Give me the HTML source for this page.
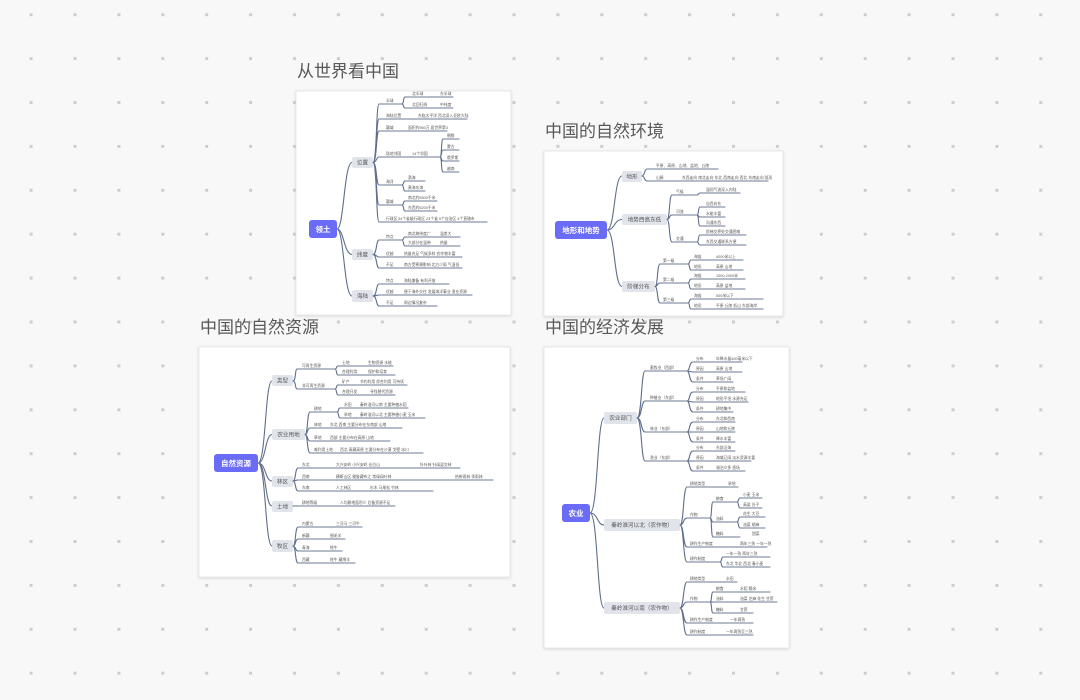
<!DOCTYPE html>
<html><head><meta charset="utf-8"><style>
html,body{margin:0;padding:0;width:1080px;height:700px;overflow:hidden;background:#f8f8f9;}
svg{display:block;font-family:"Liberation Sans","Noto Sans CJK SC",sans-serif;}
.ln{fill:none;stroke:#5f6e8b;stroke-width:1.1;stroke-linecap:round}
.ul{stroke:#6b7994;stroke-width:1.1;stroke-linecap:round}
.tt{font-size:3.8px;fill:#555}
.l1r{fill:#e1e4ea}
.l1t{font-size:5.6px;fill:#555;text-anchor:middle}
.rt{fill:#6a6cf7}
.rtt{font-size:7.5px;fill:#fff;font-weight:bold;text-anchor:middle}
.ttl{font-size:17px;fill:#585858}
.card{fill:#fff;stroke:#e3e3e6;stroke-width:0.8}
</style></head><body>
<svg width="1080" height="700" viewBox="0 0 1080 700" xmlns="http://www.w3.org/2000/svg">
<defs>
<pattern id="dots" patternUnits="userSpaceOnUse" x="29.6" y="13.2" width="43.9" height="43.9"><rect x="0" y="0" width="3" height="3" fill="#cdcdcf"/></pattern>
<filter id="sh" x="-5%" y="-5%" width="110%" height="110%"><feDropShadow dx="0" dy="1" stdDeviation="1.5" flood-color="#000" flood-opacity="0.12"/></filter>
</defs>
<rect width="1080" height="700" fill="#f8f8f9"/>
<rect width="1080" height="700" fill="url(#dots)"/>

<!-- Titles -->
<text class="ttl" x="297" y="77">从世界看中国</text>
<text class="ttl" x="545" y="137">中国的自然环境</text>
<text class="ttl" x="200" y="333">中国的自然资源</text>
<text class="ttl" x="545" y="333">中国的经济发展</text>

<!-- ================= CARD 1 ================= -->
<rect class="card" x="296" y="91" width="215" height="224" filter="url(#sh)"/>
<path class="ln" d="M337,229 C344,229 344,162.5 352,162.5 M337,229 C344,229 344,254.5 352,254.5 M337,229 C344,229 344,296 352,296"/>
<rect class="rt" x="309" y="220" width="28" height="18" rx="3"/>
<text class="rtt" x="323" y="232">领土</text>
<rect class="l1r" x="352" y="157" width="21" height="11" rx="2"/><text class="l1t" x="362.5" y="164.6">位置</text>
<rect class="l1r" x="352" y="249" width="21" height="11" rx="2"/><text class="l1t" x="362.5" y="256.6">纬度</text>
<rect class="l1r" x="352" y="290" width="21" height="12" rx="2"/><text class="l1t" x="362.5" y="298.2">海陆</text>
<path class="ln" d="M373,162.5 C377,162.5 376,104 379,104 M373,162.5 C377,162.5 376,119 379,119 M373,162.5 C377,162.5 376,131 379,131 M373,162.5 C377,162.5 376,157 379,157 M373,162.5 C377,162.5 376,185 379,185 M373,162.5 C377,162.5 376,205 379,205 M373,162.5 C377,162.5 376,222 379,222"/>
<g class="ul">
<line x1="379" y1="104" x2="402" y2="104"/><line x1="379" y1="119" x2="467" y2="119"/><line x1="379" y1="131" x2="447" y2="131"/><line x1="379" y1="157" x2="440" y2="157"/><line x1="379" y1="185" x2="402" y2="185"/><line x1="379" y1="205" x2="402" y2="205"/><line x1="379" y1="222" x2="487" y2="222"/>
<line x1="405" y1="97" x2="453" y2="97"/><line x1="405" y1="108" x2="453" y2="108"/>
<line x1="443" y1="139" x2="459" y2="139"/><line x1="443" y1="150" x2="459" y2="150"/><line x1="443" y1="161" x2="459" y2="161"/><line x1="443" y1="172" x2="459" y2="172"/>
<line x1="405" y1="181" x2="425" y2="181"/><line x1="405" y1="191" x2="425" y2="191"/>
<line x1="405" y1="201" x2="437" y2="201"/><line x1="405" y1="211" x2="437" y2="211"/>
</g>
<path class="ln" d="M402,104 C404,104 403,97 405,97 M402,104 C404,104 403,108 405,108 M440,157 C442,157 441,139 443,139 M440,157 C442,157 441,150 443,150 M440,157 C442,157 441,161 443,161 M440,157 C442,157 441,172 443,172 M402,185 C404,185 403,181 405,181 M402,185 C404,185 403,191 405,191 M402,205 C404,205 403,201 405,201 M402,205 C404,205 403,211 405,211"/>
<g class="tt">
<text x="386" y="102">半球</text><text x="386" y="117">海陆位置</text><text x="386" y="129">疆域</text><text x="386" y="155">陆地邻国</text><text x="386" y="183">海洋</text><text x="386" y="203">疆域</text><text x="386" y="220">行政区</text>
<text x="418" y="117">东临太平洋 西北深入亚欧大陆</text><text x="408" y="129">面积约960万 居世界第3</text><text x="412" y="155">14个邻国</text><text x="398" y="220">34个省级行政区 23个省 5个自治区 4个直辖市</text>
<text x="412" y="95">北半球</text><text x="440" y="95">东半球</text><text x="412" y="106">北回归线</text><text x="440" y="106">中纬度</text>
<text x="447" y="137">朝鲜</text><text x="447" y="148">蒙古</text><text x="447" y="159">俄罗斯</text><text x="447" y="170">越南</text>
<text x="408" y="179">渤海</text><text x="408" y="189">黄海东海</text><text x="408" y="199">南北约5500千米</text><text x="408" y="209">东西约5200千米</text>
</g>
<path class="ln" d="M373,254.5 C377,254.5 376,240 379,240 M373,254.5 C377,254.5 376,257 379,257 M373,254.5 C377,254.5 376,268 379,268 M373,296 C377,296 376,284 379,284 M373,296 C377,296 376,295 379,295 M373,296 C377,296 376,306 379,306 M402,240 C404,240 403,237 405,237 M402,240 C404,240 403,246 405,246"/>
<g class="ul">
<line x1="379" y1="240" x2="402" y2="240"/><line x1="379" y1="257" x2="462" y2="257"/><line x1="379" y1="268" x2="462" y2="268"/>
<line x1="405" y1="237" x2="460" y2="237"/><line x1="405" y1="246" x2="460" y2="246"/>
<line x1="379" y1="284" x2="449" y2="284"/><line x1="379" y1="295" x2="472" y2="295"/><line x1="379" y1="306" x2="437" y2="306"/>
</g>
<g class="tt">
<text x="386" y="238">特点</text><text x="386" y="255">优越</text><text x="386" y="266">不足</text>
<text x="408" y="235">南北跨纬度广</text><text x="440" y="235">温差大</text><text x="408" y="244">大部分在温带</text><text x="440" y="244">热量</text>
<text x="404" y="255">热量充足 气候多样 农作物丰富</text><text x="404" y="266">南方受寒潮影响 北方少雨 气温低</text>
<text x="386" y="282">特点</text><text x="386" y="293">优越</text><text x="386" y="304">不足</text>
<text x="404" y="282">海陆兼备 有利开放</text><text x="404" y="293">便于海外交往 发展海洋事业 渔业资源</text><text x="404" y="304">周边情况复杂</text>
</g>

<!-- ================= CARD 2 ================= -->
<rect class="card" x="544" y="151" width="239" height="165" filter="url(#sh)"/>
<path class="ln" d="M607,230 C615,230 614,176 622,176 M607,230 C615,230 614,219.5 622,219.5 M607,230 C615,230 614,286.5 622,286.5"/>
<rect class="rt" x="555" y="221" width="52" height="18" rx="3"/>
<text class="rtt" x="581" y="233">地形和地势</text>
<rect class="l1r" x="622" y="171" width="20" height="11" rx="2"/><text class="l1t" x="632" y="178.6">地形</text>
<rect class="l1r" x="622" y="214" width="45" height="11" rx="2"/><text class="l1t" x="644.5" y="221.6">地势西高东低</text>
<rect class="l1r" x="622" y="281" width="33" height="11" rx="2"/><text class="l1t" x="638.5" y="288.6">阶梯分布</text>
<path class="ln" d="M642,176 C645,176 644,169 647,169 M642,176 C645,176 644,181 647,181 M667,219.5 C670,219.5 669,195 672,195 M667,219.5 C670,219.5 669,215 672,215 M667,219.5 C670,219.5 669,242 672,242 M697,195 C699,195 698,193 700,193 M697,215 C699,215 698,207 700,207 M697,215 C699,215 698,217 700,217 M697,215 C699,215 698,226 700,226 M697,242 C699,242 698,235 700,235 M697,242 C699,242 698,245 700,245 M655,286.5 C658,286.5 657,264 660,264 M655,286.5 C658,286.5 657,283 660,283 M655,286.5 C658,286.5 657,303 660,303 M688,264 C690,264 689,260 691,260 M688,264 C690,264 689,270 691,270 M688,283 C690,283 689,279 691,279 M688,283 C690,283 689,289 691,289 M688,303 C690,303 689,299 691,299 M688,303 C690,303 689,309 691,309"/>
<g class="ul">
<line x1="647" y1="169" x2="718" y2="169"/><line x1="647" y1="181" x2="768" y2="181"/>
<line x1="672" y1="195" x2="697" y2="195"/><line x1="672" y1="215" x2="697" y2="215"/><line x1="672" y1="242" x2="697" y2="242"/>
<line x1="700" y1="193" x2="740" y2="193"/><line x1="700" y1="207" x2="725" y2="207"/><line x1="700" y1="217" x2="725" y2="217"/><line x1="700" y1="226" x2="725" y2="226"/><line x1="700" y1="235" x2="746" y2="235"/><line x1="700" y1="245" x2="746" y2="245"/>
<line x1="660" y1="264" x2="688" y2="264"/><line x1="660" y1="283" x2="688" y2="283"/><line x1="660" y1="303" x2="688" y2="303"/>
<line x1="691" y1="260" x2="743" y2="260"/><line x1="691" y1="270" x2="743" y2="270"/><line x1="691" y1="279" x2="745" y2="279"/><line x1="691" y1="289" x2="745" y2="289"/><line x1="691" y1="299" x2="763" y2="299"/><line x1="691" y1="309" x2="763" y2="309"/>
</g>
<g class="tt">
<text x="656" y="167">平原、高原、山地、盆地、丘陵</text><text x="656" y="179">山脉</text><text x="682" y="179">东西走向 南北走向 东北-西南走向 西北-东南走向 弧形</text>
<text x="676" y="193">气候</text><text x="676" y="213">河流</text><text x="676" y="240">交通</text>
<text x="706" y="191">湿润气流深入内陆</text><text x="706" y="205">自西向东</text><text x="706" y="215">水能丰富</text><text x="706" y="224">沟通东西</text><text x="706" y="233">阶梯交界处交通困难</text><text x="706" y="243">东西交通联系方便</text>
<text x="663" y="262">第一级</text><text x="663" y="281">第二级</text><text x="663" y="301">第三级</text>
<text x="694" y="258">海拔</text><text x="716" y="258">4000米以上</text><text x="694" y="268">地形</text><text x="716" y="268">高原 山地</text>
<text x="694" y="277">海拔</text><text x="716" y="277">1000-2000米</text><text x="694" y="287">地形</text><text x="716" y="287">高原 盆地</text>
<text x="694" y="297">海拔</text><text x="716" y="297">500米以下</text><text x="694" y="307">地形</text><text x="716" y="307">平原 丘陵 低山 东部海岸</text>
</g>

<!-- ================= CARD 3 ================= -->
<rect class="card" x="199" y="347" width="311" height="230" filter="url(#sh)"/>
<path class="ln" d="M258,463 C266,463 265,381 272,381 M258,463 C266,463 265,434.5 272,434.5 M258,463 C266,463 265,481 272,481 M258,463 C266,463 265,506 272,506 M258,463 C266,463 265,546 272,546"/>
<rect class="rt" x="214" y="454" width="44" height="18" rx="3"/>
<text class="rtt" x="236" y="466">自然资源</text>
<rect class="l1r" x="272" y="375" width="21" height="11" rx="2"/><text class="l1t" x="282.5" y="382.6">类型</text>
<rect class="l1r" x="272" y="429" width="33" height="11" rx="2"/><text class="l1t" x="288.5" y="436.6">农业用地</text>
<rect class="l1r" x="272" y="476" width="21" height="11" rx="2"/><text class="l1t" x="282.5" y="483.6">林区</text>
<rect class="l1r" x="272" y="501" width="21" height="11" rx="2"/><text class="l1t" x="282.5" y="508.6">土地</text>
<rect class="l1r" x="272" y="540" width="21" height="12" rx="2"/><text class="l1t" x="282.5" y="548.2">牧区</text>
<path class="ln" d="M293,381 C296,381 295,369 297,369 M293,381 C296,381 295,389 297,389 M335,369 C337,369 336,366 338,366 M335,369 C337,369 336,375 338,375 M335,389 C337,389 336,385 338,385 M335,389 C337,389 336,395 338,395 M305,434.5 C308,434.5 307,412 310,412 M305,434.5 C308,434.5 307,428 310,428 M305,434.5 C308,434.5 307,441 310,441 M305,434.5 C308,434.5 307,453 310,453 M337,412 C339,412 338,408 340,408 M337,412 C339,412 338,418 340,418 M293,481 C296,481 295,468 298,468 M293,481 C296,481 295,480 298,480 M293,481 C296,481 295,491 298,491 M293,506 L298,506 M293,546 C296,546 295,527 298,527 M293,546 C296,546 295,539 298,539 M293,546 C296,546 295,551 298,551 M293,546 C296,546 295,563 298,563"/>
<g class="ul">
<line x1="297" y1="369" x2="335" y2="369"/><line x1="297" y1="389" x2="335" y2="389"/>
<line x1="338" y1="366" x2="393" y2="366"/><line x1="338" y1="375" x2="395" y2="375"/><line x1="338" y1="385" x2="407" y2="385"/><line x1="338" y1="395" x2="395" y2="395"/>
<line x1="310" y1="412" x2="337" y2="412"/><line x1="310" y1="428" x2="402" y2="428"/><line x1="310" y1="441" x2="390" y2="441"/><line x1="310" y1="453" x2="423" y2="453"/>
<line x1="340" y1="408" x2="408" y2="408"/><line x1="340" y1="418" x2="425" y2="418"/>
<line x1="298" y1="468" x2="460" y2="468"/><line x1="298" y1="480" x2="493" y2="480"/><line x1="298" y1="491" x2="433" y2="491"/>
<line x1="298" y1="506" x2="395" y2="506"/>
<line x1="298" y1="527" x2="362" y2="527"/><line x1="298" y1="539" x2="345" y2="539"/><line x1="298" y1="551" x2="342" y2="551"/><line x1="298" y1="563" x2="355" y2="563"/>
</g>
<g class="tt">
<text x="302" y="367">可再生资源</text><text x="302" y="387">非可再生资源</text>
<text x="342" y="364">土地</text><text x="368" y="364">生物资源 水能</text><text x="342" y="373">合理利用</text><text x="368" y="373">保护和培育</text>
<text x="342" y="383">矿产</text><text x="360" y="383">节约利用 综合利用 可持续</text><text x="342" y="393">合理开发</text><text x="370" y="393">寻找替代资源</text>
<text x="314" y="410">耕地</text><text x="314" y="426">林地</text><text x="314" y="439">草地</text><text x="314" y="451">难利用土地</text>
<text x="344" y="406">水田</text><text x="360" y="406">秦岭淮河以南 主要种植水稻</text><text x="344" y="416">旱地</text><text x="360" y="416">秦岭淮河以北 主要种植小麦 玉米</text>
<text x="330" y="426">东北 西南 主要分布在东南部 山地</text><text x="330" y="439">西部 主要分布在高原 山地</text><text x="340" y="451">西北 青藏高原 主要分布在沙漠 戈壁 冰川</text>
<text x="302" y="466">东北</text><text x="336" y="466">大兴安岭 小兴安岭 长白山</text><text x="420" y="466">针叶林 针阔混交林</text>
<text x="302" y="478">西南</text><text x="336" y="478">横断山区 雅鲁藏布江 常绿阔叶林</text><text x="455" y="478">热带雨林 季雨林</text>
<text x="302" y="489">东南</text><text x="336" y="489">人工林区</text><text x="370" y="489">杉木 马尾松 竹林</text>
<text x="302" y="504">耕地等级</text><text x="340" y="504">人均耕地面积少 后备资源不足</text>
<text x="302" y="525">内蒙古</text><text x="336" y="525">三河马 三河牛</text><text x="302" y="537">新疆</text><text x="330" y="537">细毛羊</text><text x="302" y="549">青海</text><text x="330" y="549">牦牛</text><text x="302" y="561">西藏</text><text x="330" y="561">牦牛 藏绵羊</text>
</g>

<!-- ================= CARD 4 ================= -->
<rect class="card" x="544" y="347" width="245" height="301" filter="url(#sh)"/>
<path class="ln" d="M590,513 C598,513 597,418 604,418 M590,513 C598,513 597,525 604,525 M590,513 C598,513 597,608 604,608"/>
<rect class="rt" x="562" y="504" width="28" height="18" rx="3"/>
<text class="rtt" x="576" y="516">农业</text>
<rect class="l1r" x="604" y="412" width="33" height="12" rx="2"/><text class="l1t" x="620.5" y="420.2">农业部门</text>
<rect class="l1r" x="604" y="519" width="76" height="12" rx="2"/><text class="l1t" x="642" y="527.2">秦岭淮河以北（农作物）</text>
<rect class="l1r" x="604" y="602" width="76" height="12" rx="2"/><text class="l1t" x="642" y="610.2">秦岭淮河以南（农作物）</text>
<path class="ln" d="M637,418 C642,418 641,371 645,371 M637,418 C642,418 641,401 645,401 M637,418 C642,418 641,432 645,432 M637,418 C642,418 641,461 645,461
M687,371 C690,371 689,362 693,362 M687,371 L693,372 M687,371 C690,371 689,382 693,382
M687,401 C690,401 689,392 693,392 M687,401 L693,402 M687,401 C690,401 689,412 693,412
M687,432 C690,432 689,422 693,422 M687,432 L693,432 M687,432 C690,432 689,442 693,442
M687,461 C690,461 689,451 693,451 M687,461 L693,461 M687,461 C690,461 689,471 693,471"/>
<g class="ul">
<line x1="645" y1="371" x2="687" y2="371"/><line x1="645" y1="401" x2="687" y2="401"/><line x1="645" y1="432" x2="687" y2="432"/><line x1="645" y1="461" x2="687" y2="461"/>
<line x1="693" y1="362" x2="742" y2="362"/><line x1="693" y1="372" x2="742" y2="372"/><line x1="693" y1="382" x2="733" y2="382"/>
<line x1="693" y1="392" x2="745" y2="392"/><line x1="693" y1="402" x2="748" y2="402"/><line x1="693" y1="412" x2="733" y2="412"/>
<line x1="693" y1="422" x2="735" y2="422"/><line x1="693" y1="432" x2="735" y2="432"/><line x1="693" y1="442" x2="735" y2="442"/>
<line x1="693" y1="451" x2="735" y2="451"/><line x1="693" y1="461" x2="751" y2="461"/><line x1="693" y1="471" x2="745" y2="471"/>
</g>
<g class="tt">
<text x="650" y="369">畜牧业（西部）</text><text x="650" y="399">种植业（东部）</text><text x="650" y="430">林业（东部）</text><text x="650" y="459">渔业（东部）</text>
<text x="696" y="360">分布</text><text x="716" y="360">年降水量400毫米以下</text><text x="696" y="370">原因</text><text x="716" y="370">高原 山地</text><text x="696" y="380">条件</text><text x="716" y="380">草场广阔</text>
<text x="696" y="390">分布</text><text x="716" y="390">平原和盆地</text><text x="696" y="400">原因</text><text x="716" y="400">地形平坦 水源充足</text><text x="696" y="410">条件</text><text x="716" y="410">耕地集中</text>
<text x="696" y="420">分布</text><text x="716" y="420">东北和西南</text><text x="696" y="430">原因</text><text x="716" y="430">山地和丘陵</text><text x="696" y="440">条件</text><text x="716" y="440">降水丰富</text>
<text x="696" y="449">分布</text><text x="716" y="449">东部沿海</text><text x="696" y="459">原因</text><text x="716" y="459">海域辽阔 淡水资源丰富</text><text x="696" y="469">条件</text><text x="716" y="469">湖泊众多 渔场</text>
</g>
<path class="ln" d="M680,525 C684,525 683,487 687,487 M680,525 C684,525 683,518 687,518 M680,525 C684,525 683,547 687,547 M680,525 C684,525 683,562 687,562
M710,518 C712,518 711,502 713,502 M710,518 C712,518 711,522 713,522 M710,518 C712,518 711,537 713,537
M737,502 C739,502 738,498 740,498 M737,502 C739,502 738,508 740,508 M737,522 C739,522 738,517 740,517 M737,522 C739,522 738,528 740,528
M720,562 C722,562 721,557 723,557 M720,562 C722,562 721,567 723,567
M680,608 C684,608 683,582 687,582 M680,608 C684,608 683,602 687,602 M680,608 C684,608 683,623 687,623 M680,608 C684,608 683,635 687,635
M710,602 C712,602 711,592 713,592 M710,602 L713,602 M710,602 C712,602 711,613 713,613"/>
<g class="ul">
<line x1="687" y1="487" x2="738" y2="487"/><line x1="687" y1="518" x2="710" y2="518"/><line x1="687" y1="547" x2="767" y2="547"/><line x1="687" y1="562" x2="720" y2="562"/>
<line x1="713" y1="502" x2="737" y2="502"/><line x1="713" y1="522" x2="737" y2="522"/><line x1="713" y1="537" x2="740" y2="537"/>
<line x1="740" y1="498" x2="762" y2="498"/><line x1="740" y1="508" x2="762" y2="508"/><line x1="740" y1="517" x2="765" y2="517"/><line x1="740" y1="528" x2="765" y2="528"/>
<line x1="723" y1="557" x2="770" y2="557"/><line x1="723" y1="567" x2="770" y2="567"/>
<line x1="687" y1="582" x2="737" y2="582"/><line x1="687" y1="602" x2="710" y2="602"/><line x1="687" y1="623" x2="753" y2="623"/><line x1="687" y1="635" x2="753" y2="635"/>
<line x1="713" y1="592" x2="770" y2="592"/><line x1="713" y1="602" x2="777" y2="602"/><line x1="713" y1="613" x2="753" y2="613"/>
</g>
<g class="tt">
<text x="690" y="485">耕地类型</text><text x="728" y="485">旱地</text><text x="690" y="516">作物</text><text x="690" y="545">耕作生产制度</text><text x="740" y="545">两年三熟 一年一熟</text><text x="690" y="560">耕作制度</text>
<text x="716" y="500">粮食</text><text x="716" y="520">油料</text><text x="716" y="535">糖料</text><text x="752" y="535">甜菜</text>
<text x="743" y="496">小麦 玉米</text><text x="743" y="506">高粱 谷子</text><text x="743" y="515">花生 大豆</text><text x="743" y="526">油菜 胡麻</text>
<text x="726" y="555">一年一熟 两年三熟</text><text x="726" y="565">东北 华北 西北 春小麦</text>
<text x="690" y="580">耕地类型</text><text x="726" y="580">水田</text><text x="690" y="600">作物</text><text x="690" y="621">耕作生产制度</text><text x="730" y="621">一年两熟</text><text x="690" y="633">耕作制度</text><text x="726" y="633">一年两熟至三熟</text>
<text x="716" y="590">粮食</text><text x="740" y="590">水稻 糯米</text><text x="716" y="600">油料</text><text x="740" y="600">油菜 芝麻 花生 甘蔗</text><text x="716" y="611">糖料</text><text x="740" y="611">甘蔗</text>
</g>
</svg>
</body></html>
